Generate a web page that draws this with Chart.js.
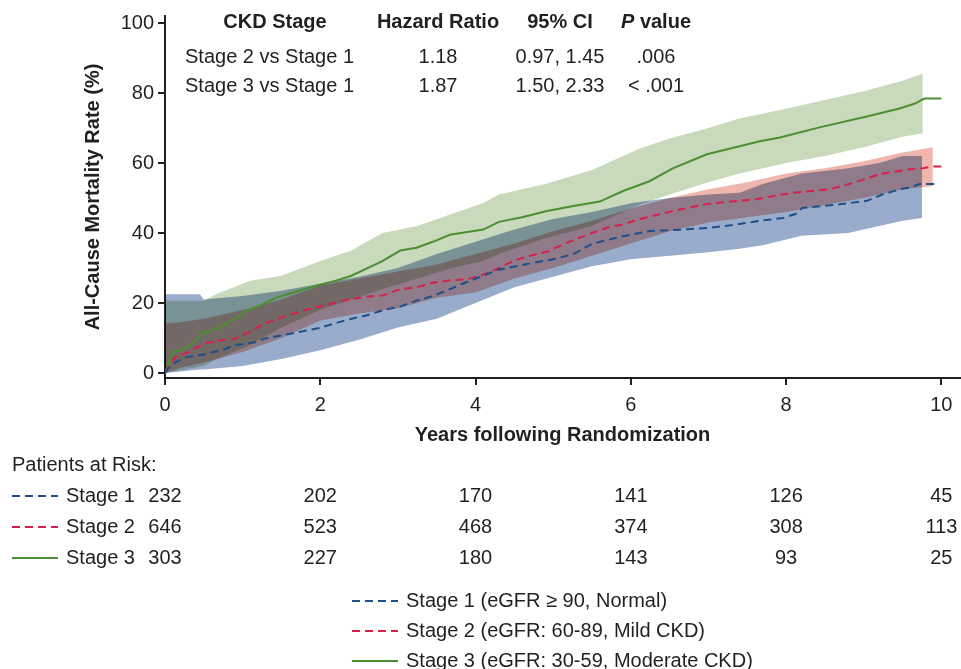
<!DOCTYPE html>
<html>
<head>
<meta charset="utf-8">
<script src="https://cdn.jsdelivr.net/npm/chart.js@4.4.1/dist/chart.umd.min.js"></script>
<style>
  html, body { margin: 0; padding: 0; background: #fff; }
  canvas { display: block; }
</style>
</head>
<body>
<canvas id="km" width="961" height="669"></canvas>
<script>
// ticks
const xTicks = [0, 2, 4, 6, 8, 10];
const yTicks = [0, 20, 40, 60, 80, 100];

// Kaplan-Meier estimates (years, %)
const s1T = [0, 0.04, 0.13, 0.26, 0.51, 0.73, 0.9, 1.16, 1.29, 1.58, 1.97, 2.19, 2.36, 2.6, 2.81, 3.03, 3.24, 3.45, 3.67, 3.84, 4.06, 4.29, 4.4, 4.74, 5.0, 5.26, 5.51, 5.86, 6.24, 6.67, 7.0, 7.31, 7.66, 7.96, 8.13, 8.21, 8.69, 9.04, 9.24, 9.46, 9.59, 9.72, 9.91];
const s1Y = [0, 1.4, 3, 4.5, 5.4, 6.5, 8, 8.8, 9.9, 11.1, 12.8, 14.2, 15.3, 16.5, 18, 19, 20.7, 22, 24, 25.6, 27.5, 29.5, 30, 31.5, 32.5, 34, 37, 38.9, 40.6, 41, 41.5, 42.3, 43.5, 44.3, 45.5, 47.2, 48.2, 49.2, 51, 52.5, 53, 54, 54];

const s2T = [0, 0.05, 0.13, 0.3, 0.51, 0.73, 0.9, 1.07, 1.29, 1.58, 1.84, 2.1, 2.36, 2.6, 2.81, 3.03, 3.24, 3.45, 3.67, 3.89, 4.14, 4.3, 4.48, 4.7, 4.92, 5.26, 5.5, 5.69, 5.9, 6.12, 6.54, 6.98, 7.3, 7.62, 8.05, 8.56, 8.86, 9.2, 9.59, 9.76, 9.89, 10.0];
const s2Y = [0, 2, 4.5, 6, 8.5, 9.4, 9.9, 11.6, 14.2, 16.5, 18.2, 19.6, 21, 21.8, 22.2, 24, 24.5, 25.8, 26.5, 26.8, 28.4, 30, 32, 33.5, 34.7, 38, 40, 41.5, 42.5, 44, 46.3, 48.3, 49, 49.7, 51.4, 52.5, 54.3, 56.8, 58.2, 58.5, 59, 59];

const s3T = [0, 0.05, 0.1, 0.22, 0.36, 0.49, 0.62, 0.8, 0.93, 1.06, 1.22, 1.44, 1.65, 1.96, 2.2, 2.4, 2.8, 3.03, 3.24, 3.45, 3.67, 4.1, 4.3, 4.6, 4.92, 5.26, 5.6, 5.9, 6.24, 6.54, 6.98, 7.4, 7.66, 7.92, 8.47, 9.04, 9.46, 9.66, 9.78, 10.0];
const s3Y = [0, 3, 6, 6.5, 8.5, 11.4, 12.2, 14.2, 16, 17.9, 19.3, 21.6, 23, 25, 26.4, 27.8, 32, 35, 35.8, 37.5, 39.5, 41, 43.2, 44.5, 46.3, 47.7, 49, 52, 54.8, 58.5, 62.5, 64.8, 66.2, 67.3, 70.4, 73.3, 75.6, 77, 78.4, 78.4];

// 95% confidence bands
const b1T  = [0, 0.45, 0.5, 1.0, 1.5, 2.0, 2.5, 3.0, 3.5, 4.0, 4.5, 5.0, 5.5, 6.0, 6.5, 7.0, 7.4, 7.7, 8.2, 8.8, 9.2, 9.5, 9.75];
const b1Hi = [22.5, 22.5, 21, 22, 23.5, 25.5, 27.5, 30, 34, 37.5, 41, 44, 46, 48.5, 50, 51, 51.5, 54, 57, 58.5, 60, 62, 62];
const b1Lo = [0, 1, 1, 2, 4, 6.5, 9.5, 13, 15.5, 20, 24.5, 27.5, 30.5, 32.5, 33.5, 34.5, 35.5, 36.5, 39.2, 40, 42, 43.5, 44.3];

const b2T  = [0, 0.2, 0.5, 1.0, 1.5, 2.0, 2.5, 3.0, 3.5, 4.0, 4.5, 5.0, 5.5, 6.0, 6.5, 7.0, 7.5, 8.0, 8.5, 9.0, 9.5, 9.89];
const b2Hi = [14.2, 14.5, 15.5, 18, 21, 25, 27, 29, 31, 34, 37, 40.5, 43.5, 47, 50, 52.5, 54.5, 57, 58.5, 60.5, 63, 64.5];
const b2Lo = [0, 1.5, 3, 6, 10, 15, 17, 18.5, 21.5, 23, 27, 30, 33.5, 37, 40.5, 43, 44.5, 46, 48, 50, 52.5, 53.4];

const b3T  = [0, 0.5, 0.67, 1.1, 1.5, 2.0, 2.4, 2.8, 3.25, 3.7, 4.1, 4.3, 4.9, 5.5, 6.1, 6.5, 7.0, 7.4, 8.0, 8.5, 9.0, 9.5, 9.76];
const b3Hi = [20.7, 20.7, 22.7, 26.4, 27.8, 32, 35, 40, 42, 45.5, 48.6, 51, 54, 58, 64, 67, 70, 72.7, 75.5, 78, 80.5, 83.5, 85.5];
const b3Lo = [0, 2, 4, 8, 13, 18, 21, 24, 27, 30, 32, 34, 38.5, 42, 48, 51, 54.5, 57, 60, 62, 64.5, 67.5, 68.5];

// patients at risk
const riskNames = ['Stage 1', 'Stage 2', 'Stage 3'];
const risk1 = [232, 202, 170, 141, 126, 45];
const risk2 = [646, 523, 468, 374, 308, 113];
const risk3 = [303, 227, 180, 143, 93, 25];

// hazard ratio table
const hrHeads = ['CKD Stage', 'Hazard Ratio', '95% CI'];
const hrRows = ['Stage 2 vs Stage 1', 'Stage 3 vs Stage 1'];
const hrVals = ['1.18', '1.87'];
const hrCI = ['0.97, 1.45', '1.50, 2.33'];
const hrP = ['.006', '< .001'];

const legendLabels = [
  'Stage 1 (eGFR \u2265 90, Normal)',
  'Stage 2 (eGFR: 60-89, Mild CKD)',
  'Stage 3 (eGFR: 30-59, Moderate CKD)'
];

const BLUE = '#1d4f8b', RED = '#d81e4b', GREEN = '#4b8f30';
const INK = '#231f20';
const FONT = '"Liberation Sans", Arial, Helvetica, sans-serif';
const DASH = [8, 5];

const pts = (t, y) => t.map((v, i) => ({ x: v, y: y[i] }));

function band(t, lo, hi, color) {
  return [
    { data: pts(t, lo), borderWidth: 0, borderColor: 'rgba(0,0,0,0)', pointRadius: 0, fill: false },
    { data: pts(t, hi), borderWidth: 0, borderColor: 'rgba(0,0,0,0)', pointRadius: 0, fill: '-1', backgroundColor: color }
  ];
}

// bands overlap like printed inks
const blendPlugin = {
  id: 'blend',
  beforeRender(chart) { chart.ctx.globalCompositeOperation = 'multiply'; },
  beforeDatasetsDraw(chart) { chart.ctx.globalCompositeOperation = 'source-over'; }
};

const textPlugin = {
  id: 'kmText',
  afterDraw(chart) {
    const ctx = chart.ctx;
    const xs = chart.scales.x;
    ctx.save();
    ctx.globalCompositeOperation = 'source-over';
    ctx.fillStyle = INK;
    ctx.textBaseline = 'middle';

    // table in the plot
    const colX = [275, 438, 560, 656];
    ctx.font = 'bold 20px ' + FONT;
    ctx.textAlign = 'center';
    hrHeads.forEach((h, i) => ctx.fillText(h, colX[i], 22));
    ctx.font = 'bold italic 20px ' + FONT;
    const wP = ctx.measureText('P').width;
    ctx.font = 'bold 20px ' + FONT;
    const wV = ctx.measureText(' value').width;
    ctx.textAlign = 'left';
    let px = colX[3] - (wP + wV) / 2;
    ctx.font = 'bold italic 20px ' + FONT;
    ctx.fillText('P', px, 22);
    ctx.font = 'bold 20px ' + FONT;
    ctx.fillText(' value', px + wP, 22);

    ctx.font = '20px ' + FONT;
    hrRows.forEach((r, i) => {
      const y = 57 + i * 29;
      ctx.textAlign = 'left';
      ctx.fillText(r, 185, y);
      ctx.textAlign = 'center';
      ctx.fillText(hrVals[i], colX[1], y);
      ctx.fillText(hrCI[i], colX[2], y);
      ctx.fillText(hrP[i], colX[3], y);
    });

    // patients at risk
    ctx.textAlign = 'left';
    ctx.fillText('Patients at Risk:', 12, 465);
    const risks = [risk1, risk2, risk3];
    const cols = [BLUE, RED, GREEN];
    risks.forEach((row, i) => {
      const y = 496 + i * 31;
      ctx.strokeStyle = cols[i];
      ctx.lineWidth = 2;
      ctx.setLineDash(i < 2 ? DASH : []);
      ctx.beginPath(); ctx.moveTo(12, y); ctx.lineTo(58, y); ctx.stroke();
      ctx.textAlign = 'left';
      ctx.fillText(riskNames[i], 66, y);
      ctx.textAlign = 'center';
      row.forEach((n, j) => ctx.fillText(String(n), xs.getPixelForValue(xTicks[j]), y));
    });

    // legend
    legendLabels.forEach((lab, i) => {
      const y = 601 + i * 30;
      ctx.strokeStyle = cols[i];
      ctx.setLineDash(i < 2 ? DASH : []);
      ctx.beginPath(); ctx.moveTo(352, y); ctx.lineTo(398, y); ctx.stroke();
      ctx.textAlign = 'left';
      ctx.fillText(lab, 406, y);
    });
    ctx.restore();
  }
};

Chart.defaults.font.family = FONT;
Chart.defaults.font.size = 20;
Chart.defaults.color = INK;

new Chart(document.getElementById('km'), {
  type: 'line',
  data: {
    datasets: [
      { data: pts(s1T, s1Y), borderColor: BLUE, borderWidth: 2, borderDash: DASH, pointRadius: 0, fill: false },
      { data: pts(s2T, s2Y), borderColor: RED, borderWidth: 2, borderDash: DASH, pointRadius: 0, fill: false },
      { data: pts(s3T, s3Y), borderColor: GREEN, borderWidth: 2, pointRadius: 0, fill: false },
      ...band(b1T, b1Lo, b1Hi, '#9aaccc'),
      ...band(b2T, b2Lo, b2Hi, '#efb6ae'),
      ...band(b3T, b3Lo, b3Hi, '#c9d9bb')
    ]
  },
  options: {
    responsive: false,
    animation: false,
    devicePixelRatio: 1,
    layout: { padding: { left: 0, right: 1, top: 14, bottom: 219 } },
    plugins: {
      legend: { display: false },
      tooltip: { enabled: false },
      filler: { drawTime: 'beforeDatasetsDraw' }
    },
    scales: {
      x: {
        type: 'linear',
        min: 0,
        max: 10.24,
        afterBuildTicks: s => { s.ticks = xTicks.map(v => ({ value: v })); },
        afterFit: s => { s.height = 72; },
        grid: { drawOnChartArea: false, drawTicks: true, tickLength: 7, color: INK, lineWidth: 2 },
        border: { color: INK, width: 2 },
        ticks: { padding: 8, maxRotation: 0 },
        title: { display: true, text: 'Years following Randomization', font: { weight: 'bold', size: 20 }, padding: { top: 0, bottom: 3 } }
      },
      y: {
        min: -1.4,
        max: 102,
        afterBuildTicks: s => { s.ticks = yTicks.map(v => ({ value: v })); },
        afterFit: s => { s.width = 165; },
        grid: { drawOnChartArea: false, drawTicks: true, tickLength: 7, color: INK, lineWidth: 2 },
        border: { color: INK, width: 2 },
        ticks: { padding: 4 },
        title: { display: true, text: 'All-Cause Mortality Rate (%)', font: { weight: 'bold', size: 20 }, padding: { top: 81, bottom: 0 } }
      }
    }
  },
  plugins: [blendPlugin, textPlugin]
});
</script>
</body>
</html>
